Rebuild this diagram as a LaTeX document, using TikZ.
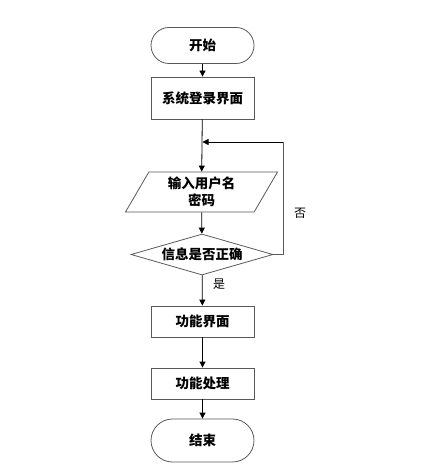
\documentclass[tikz,border=0pt]{standalone}
\usepackage{fontspec}
\newfontfamily\cjk{Noto Sans CJK SC}
\usetikzlibrary{shapes.geometric,shapes.misc,arrows.meta}
\tikzset{
  base/.style={draw=black!65, line width=0.8pt, font=\cjk\bfseries\fontsize{13.5}{15}\selectfont, inner sep=0pt, align=center},
  term/.style={base, rounded rectangle, minimum width=103pt, minimum height=36pt},
  proc/.style={base, rectangle, minimum width=103pt},
  io/.style={base, trapezium, trapezium left angle=63.4, trapezium right angle=116.6, trapezium stretches=true, minimum width=153pt, minimum height=40pt},
  dec/.style={base, diamond, aspect=3.5, minimum width=142pt, minimum height=41pt},
  arr/.style={draw=black, line width=0.8pt, -{Triangle[width=6pt,length=6pt]}},
  fb/.style={draw=black!65, line width=0.8pt},
  lbl/.style={font=\cjk\fontsize{12}{14}\selectfont, inner sep=0pt}
}
\begin{document}
\begin{tikzpicture}[x=1pt,y=-1pt]
\useasboundingbox (0,0) rectangle (429,473);
\node[term] (start) at (202.5,45.5) {开始};
\node[proc, minimum height=42pt] (login) at (202.5,98) {系统登录界面};
\node[io] (input) at (201.5,192) {输入用户名\\[2pt]密码};
\node[dec] (check) at (202,254.5) {信息是否正确};
\node[proc, minimum height=31pt] (func) at (202.5,321.5) {功能界面};
\node[proc, minimum height=31pt] (proc) at (202.5,383.5) {功能处理};
\node[term, minimum height=43pt] (stop) at (202.5,440.5) {结束};
\coordinate (merge) at (202.5,142);
\coordinate (c1) at (283,254.5);
\coordinate (c2) at (283,142);
\draw[arr] (start) -- (login);
\draw[arr] (login) -- (input);
\draw[arr] (input) -- (check);
\draw[arr] (check) -- (func);
\draw[arr] (func) -- (proc);
\draw[arr] (proc) -- (stop);
\draw[fb] (check.east) -- (c1) -- (c2);
\draw[arr] (c2) -- (merge);
\node[lbl] (yes) at (219,284) {是};
\node[lbl] (no) at (300,213) {否};
\end{tikzpicture}
\end{document}
